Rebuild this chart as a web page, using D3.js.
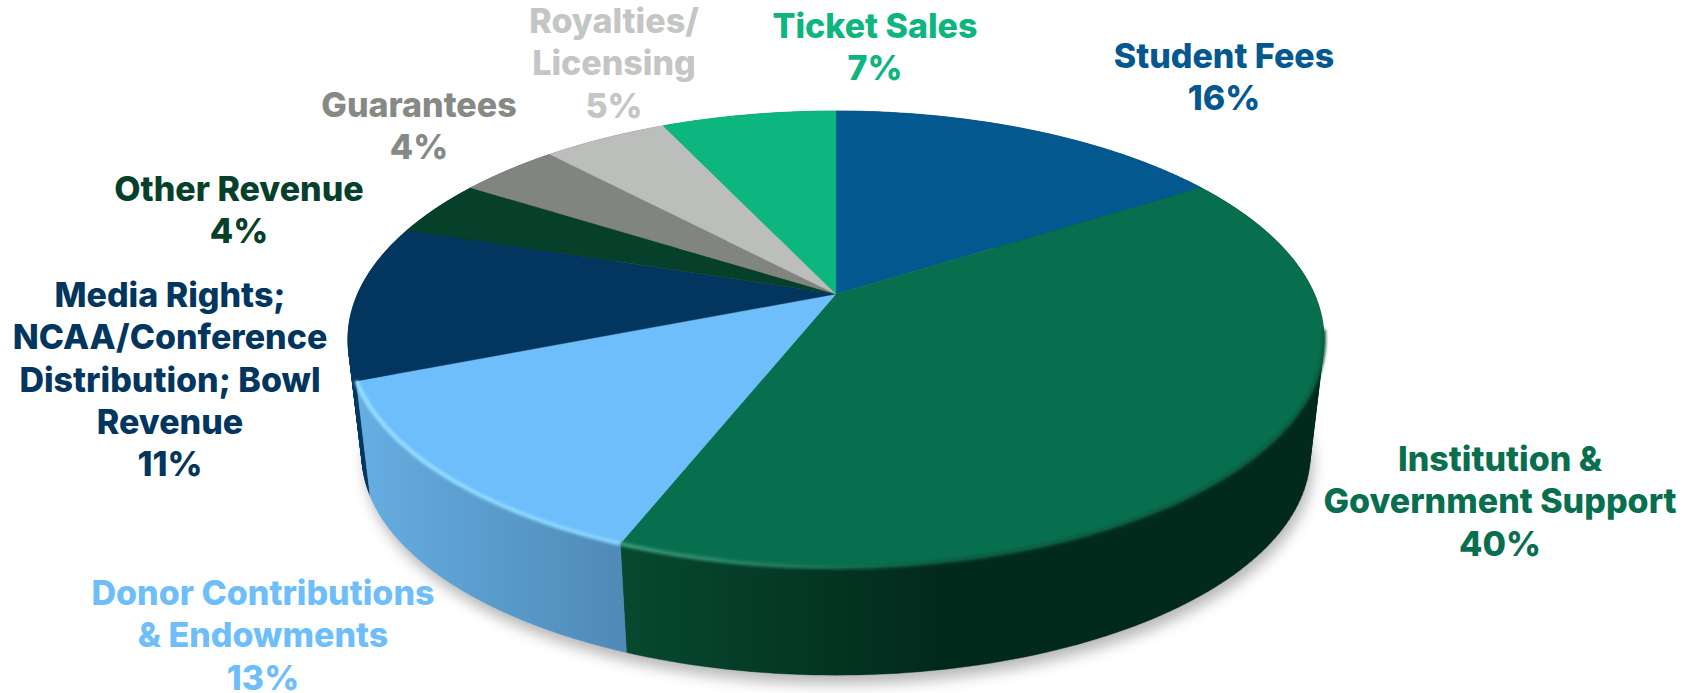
<!DOCTYPE html>
<html>
<head>
<meta charset="utf-8">
<script src="https://cdn.jsdelivr.net/npm/d3@7/dist/d3.min.js"></script>
<style>
  html, body { margin: 0; padding: 0; background: #fff; overflow: hidden; }
  text { font-family: "Inter", sans-serif; font-weight: 800; font-size: 34px; text-anchor: middle; }
</style>
</head>
<body>
<script>
// Revenue shares, clockwise from twelve o'clock
const categories = ["Student Fees", "Institution & Government Support", "Donor Contributions & Endowments",
  "Media Rights; NCAA/Conference Distribution; Bowl Revenue", "Other Revenue", "Guarantees",
  "Royalties/ Licensing", "Ticket Sales"];
const shares = [16, 40, 13, 11, 4, 4, 5, 7];
const labelLines = [
  ["Student Fees", "16%"],
  ["Institution &", "Government Support", "40%"],
  ["Donor Contributions", "& Endowments", "13%"],
  ["Media Rights;", "NCAA/Conference", "Distribution; Bowl", "Revenue", "11%"],
  ["Other Revenue", "4%"],
  ["Guarantees", "4%"],
  ["Royalties/", "Licensing", "5%"],
  ["Ticket Sales", "7%"]
];
const faceColours = ["#02588F", "#086F4E", "#6DBEFB", "#02365F", "#07402A", "#81857F", "#BBBEBA", "#0DB57F"];
const textColours = ["#02588F", "#086F4E", "#6DBEFB", "#02365F", "#07402A", "#868A85", "#C4C6C3", "#0DB57F"];
const wallStops = [
  ["#013f68", "#013f68", 1],
  ["#07492f", "#022A1C", 0.45],
  ["#66AEE2", "#4F8AB8", 1],
  ["#013a66", "#012B4E", 1],
  ["#052e1e", "#052e1e", 1],
  ["#5e615c", "#5e615c", 1],
  ["#8a8c88", "#8a8c88", 1],
  ["#09835c", "#09835c", 1]
];
const rimStops = [
  null,
  ["#3E9D7E", "#075A41", 0.45],
  ["#9BE2FF", "#8AD6FF", 1],
  null, null, null, null, null
];
// Where each label block is centred: horizontal centre, middle of the first line
const labelAnchors = [[1224, 56], [1500, 459], [263, 593], [170, 295], [239, 189], [419, 105], [614, 21], [875, 26]];
const lineStep = 42.2;

const width = 1694, height = 693;
const svg = d3.select("body").append("svg").attr("width", width).attr("height", height);
const defs = svg.append("defs");

// Perspective projection of the unit disc onto the top face of the pie
const cx = 836, hubY = 294, perspective = 0.1976, scaleU = 478.4, scaleV = 219.2;
const toBottomX = d3.scaleLinear().domain([cx - 488, cx + 488]).range([cx - 474, cx + 474]);
const toBottomY = d3.scaleLinear().domain([339 - 228, 339 + 228]).range([455 - 220, 455 + 220]);

function topPoint(angle, r = 1) {
  const u = r * Math.sin(angle), v = r * Math.cos(angle), w = 1 + perspective * v;
  return [cx + scaleU * u / w, hubY - scaleV * v / w];
}
const bottomPoint = angle => { const p = topPoint(angle); return [toBottomX(p[0]), toBottomY(p[1])]; };

const arcPoints = (a, b, fn) => d3.range(0, 121).map(i => fn(a + (b - a) * i / 120));
const outline = d3.line();

const slices = d3.pie().sort(null).value(d => d)(shares).map((s, i) => ({ ...s, i }));

// Soft drop shadow below the base
const soft = defs.append("filter").attr("id", "soft").attr("x", "-10%").attr("y", "-10%").attr("width", "120%").attr("height", "120%");
soft.append("feGaussianBlur").attr("stdDeviation", 7);
const bevel = defs.append("filter").attr("id", "bevel").attr("filterUnits", "userSpaceOnUse")
  .attr("x", 0).attr("y", 0).attr("width", width).attr("height", height);
bevel.append("feGaussianBlur").attr("stdDeviation", 1.5);

svg.append("path")
  .attr("d", outline(arcPoints(0, 2 * Math.PI, bottomPoint).map(p => [p[0] + 3, p[1] + 9])) + "Z")
  .attr("fill", "rgba(0,0,0,0.28)").attr("filter", "url(#soft)");

function horizontalGradient(id, stops, pts) {
  const xs = d3.extent(pts, p => p[0]);
  const g = defs.append("linearGradient").attr("id", id).attr("gradientUnits", "userSpaceOnUse")
    .attr("x1", xs[0]).attr("x2", xs[1]).attr("y1", 0).attr("y2", 0);
  g.append("stop").attr("offset", 0).attr("stop-color", stops[0]);
  g.append("stop").attr("offset", stops[2]).attr("stop-color", stops[1]);
}

// One consistently wound quad per rim step, so the fold at the silhouette stays filled
function wallPath(upper, lower) {
  return d3.range(upper.length - 1).map(i => {
    const quad = [upper[i], upper[i + 1], lower[i + 1], lower[i]];
    return outline(d3.polygonArea(quad) < 0 ? quad.reverse() : quad) + "Z";
  }).join("");
}

// Walls, far slices first so that the nearer ones overlap them
const walls = slices.slice().sort((a, b) =>
  Math.cos((a.startAngle + a.endAngle) / 2) - Math.cos((b.startAngle + b.endAngle) / 2));
walls.reverse().forEach(s => {
  const upper = arcPoints(s.startAngle, s.endAngle, topPoint);
  const lower = arcPoints(s.startAngle, s.endAngle, bottomPoint);
  horizontalGradient("wall" + s.i, wallStops[s.i], upper);
  svg.append("path").attr("d", wallPath(upper, lower))
    .attr("fill", `url(#wall${s.i})`)
    .attr("stroke", `url(#wall${s.i})`).attr("stroke-width", 0.4);
});

// Top face
slices.forEach(s => {
  const pts = [topPoint(0, 0)].concat(arcPoints(s.startAngle, s.endAngle, topPoint));
  svg.append("path").attr("d", outline(pts) + "Z")
    .attr("fill", faceColours[s.i])
    .attr("stroke", faceColours[s.i]).attr("stroke-width", 0.4);
});

// Bevelled highlight along the front rim, only where a wall shows below it
const frontFrom = Math.PI * 0.55;
slices.filter(s => rimStops[s.i]).forEach(s => {
  const rim = arcPoints(Math.max(s.startAngle, frontFrom), s.endAngle, topPoint);
  horizontalGradient("rim" + s.i, rimStops[s.i], rim);
  svg.append("path").attr("d", outline(rim))
    .attr("fill", "none").attr("stroke", `url(#rim${s.i})`)
    .attr("stroke-width", 4).attr("filter", "url(#bevel)");
});

// Labels
slices.forEach(s => {
  const [x, y] = labelAnchors[s.i];
  const t = svg.append("text").attr("fill", textColours[s.i]).attr("aria-label", categories[s.i]);
  labelLines[s.i].forEach((line, k) => {
    t.append("tspan").attr("x", x).attr("y", y + k * lineStep).attr("dy", "0.36em").text(line);
  });
});
</script>
</body>
</html>
